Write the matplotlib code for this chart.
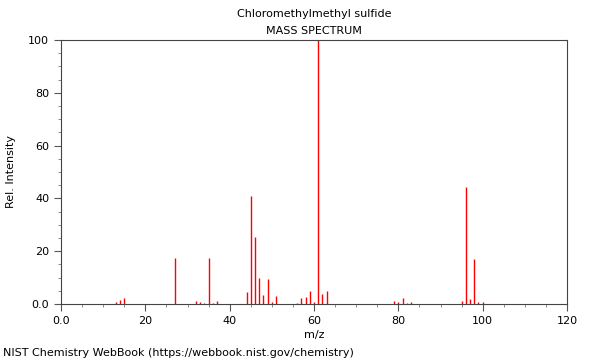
import matplotlib.pyplot as plt
from matplotlib.ticker import MultipleLocator

# m/z and relative intensity
mz = [13, 14, 15, 27, 32, 33, 34, 35, 36, 37,
      44, 45, 46, 47, 48, 49, 50, 51,
      56, 57, 58, 59, 60, 61, 62, 63,
      79, 80, 81, 82, 83,
      95, 96, 97, 98, 99, 100]
intensity = [0.9, 1.5, 2.3, 17.3, 1.3, 0.8, 0.5, 17.4, 0.3, 1.0,
             4.4, 41.0, 25.5, 9.8, 3.4, 9.5, 0.8, 2.9,
             0.3, 2.1, 2.8, 4.8, 0.9, 100.0, 3.9, 4.9,
             1.0, 0.6, 2.4, 0.3, 0.75,
             1.0, 44.4, 1.9, 16.9, 0.75, 0.6]

fig = plt.figure(figsize=(6, 3.6), dpi=100)
ax = fig.add_axes([0.1017, 0.1556, 0.8433, 0.7333])

ax.vlines(mz, 0, intensity, color="red", linewidth=1)

ax.set_xlim(0, 120)
ax.set_ylim(0, 100)
ax.xaxis.set_major_locator(MultipleLocator(20))
ax.xaxis.set_minor_locator(MultipleLocator(5))
ax.yaxis.set_major_locator(MultipleLocator(20))
ax.yaxis.set_minor_locator(MultipleLocator(5))

def fmt(v, pos):
    return "0.0" if v == 0 else f"{v:.0f}"

ax.xaxis.set_major_formatter(fmt)
ax.yaxis.set_major_formatter(fmt)
ax.tick_params(which="major", length=5, width=0.8, labelsize=8, color="#555")
ax.tick_params(which="minor", length=2.5, width=0.6, color="#777")
for s in ax.spines.values():
    s.set_color("#444")
    s.set_linewidth(0.8)

ax.set_xlabel("m/z", fontsize=8, labelpad=3)
ax.set_ylabel("Rel. Intensity", fontsize=8, labelpad=9)

# titles are centred over the plot area, not the whole figure
fig.text(0.523, 0.962, "Chloromethylmethyl sulfide", ha="center", va="center", fontsize=8)
fig.text(0.523, 0.915, "MASS SPECTRUM", ha="center", va="center", fontsize=8)
fig.text(0.005, 0.019, "NIST Chemistry WebBook (https://webbook.nist.gov/chemistry)",
         ha="left", va="center", fontsize=8)

fig.savefig("out.png", dpi=100)
